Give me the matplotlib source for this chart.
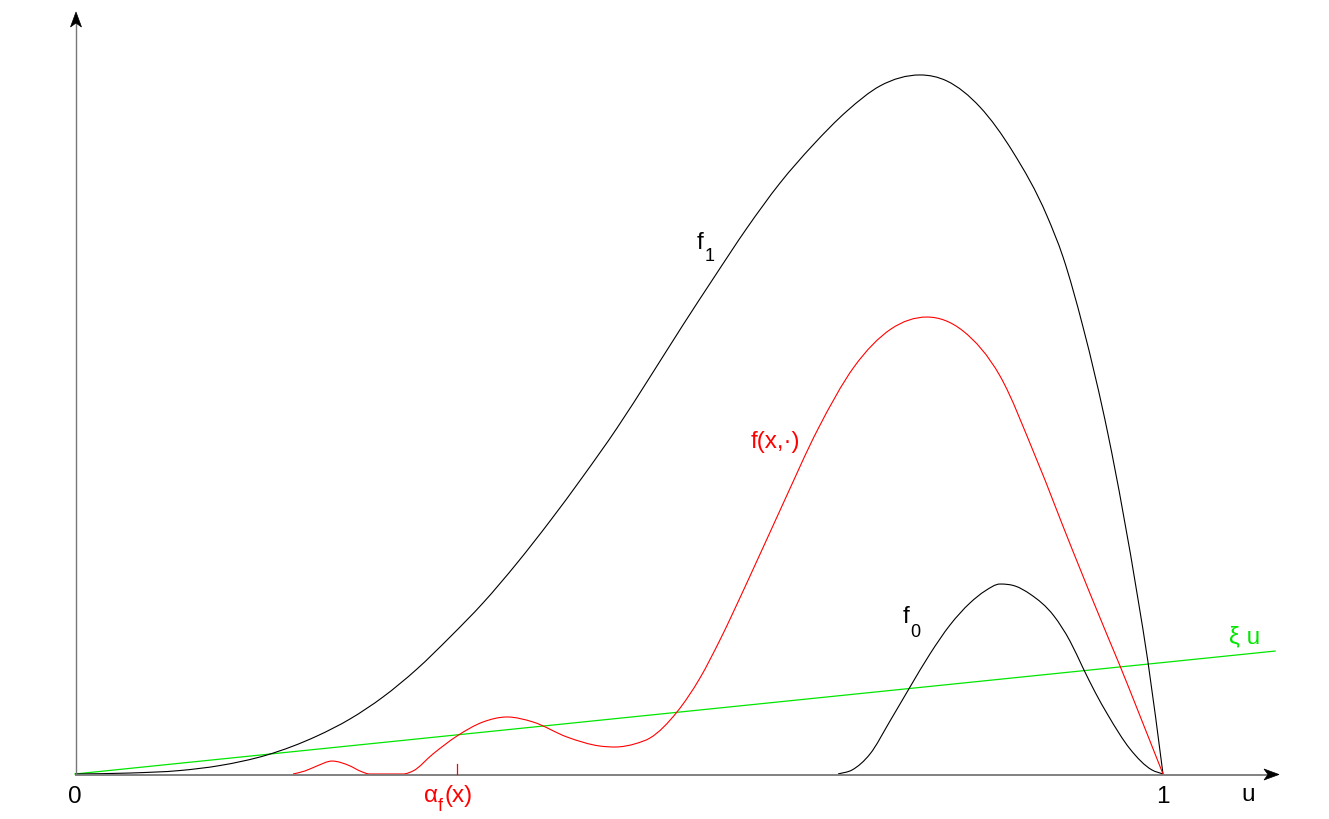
import matplotlib
matplotlib.use("Agg")
import numpy as np
import matplotlib.pyplot as plt
import matplotlib.transforms as mtransforms
from matplotlib.patches import Polygon, PathPatch
from matplotlib.path import Path

# ---------------- data (u on horizontal axis, values in same units) ----------------
f1_u = [0.0000, 0.0506, 0.0965, 0.1333, 0.1765, 0.2224, 0.2528, 0.2831, 0.3143, 0.3447,
        0.3750, 0.4063, 0.4366, 0.4669, 0.4982, 0.5285, 0.5588, 0.5864, 0.6176, 0.6480,
        0.6783, 0.7096, 0.7399, 0.7767, 0.8015, 0.8318, 0.8621, 0.8934, 0.9081, 0.9265,
        0.9494, 0.9770, 0.9862, 1.0000]
f1_v = [0.0000, 0.0009, 0.0032, 0.0078, 0.0175, 0.0349, 0.0506, 0.0708, 0.0965, 0.1259,
        0.1572, 0.1939, 0.2325, 0.2735, 0.3180, 0.3649, 0.4127, 0.4550, 0.5018, 0.5432,
        0.5781, 0.6094, 0.6324, 0.6425, 0.6369, 0.6130, 0.5717, 0.5129, 0.4752, 0.4108,
        0.3125, 0.1608, 0.1029, 0.0000]

fx_u = [0.2004, 0.2114, 0.2224, 0.2362, 0.2528, 0.2619, 0.2711, 0.3015, 0.3107, 0.3290,
        0.3511, 0.3750, 0.3971, 0.4210, 0.4522, 0.4825, 0.4963, 0.5156, 0.5285, 0.5533,
        0.5744, 0.5928, 0.6158, 0.6498, 0.6829, 0.7160, 0.7500, 0.7831, 0.8162, 0.8502,
        0.8833, 0.9164, 0.9494, 0.9605, 0.9789, 1.0000]
fx_v = [0.0000, 0.0028, 0.0074, 0.0119, 0.0074, 0.0028, 0.0000, 0.0000, 0.0028, 0.0184,
        0.0349, 0.0478, 0.0524, 0.0478, 0.0340, 0.0257, 0.0248, 0.0280, 0.0331, 0.0570,
        0.0882, 0.1232, 0.1719, 0.2463, 0.3171, 0.3741, 0.4090, 0.4200, 0.4072, 0.3658,
        0.2904, 0.2068, 0.1259, 0.0993, 0.0533, 0.0000]

f0_u = [0.7013, 0.7142, 0.7307, 0.7491, 0.7675, 0.7858, 0.8042, 0.8226, 0.8364, 0.8502,
        0.8640, 0.8778, 0.8998, 0.9145, 0.9265, 0.9375, 0.9494, 0.9697, 0.9899, 1.0000]
f0_v = [0.0000, 0.0037, 0.0184, 0.0487, 0.0800, 0.1103, 0.1369, 0.1572, 0.1682, 0.1746,
        0.1728, 0.1654, 0.1452, 0.1222, 0.0974, 0.0754, 0.0542, 0.0230, 0.0037, 0.0000]

xi_u = [0.000, 1.103]
xi_v = [0.000, 0.113]

alpha_u = 0.351          # position of alpha_f(x)
tick_labels = ["0", "1"]
tick_pos = [0.0, 1.0]

# ---------------- figure ----------------
W, H = 1329, 820
fig = plt.figure(figsize=(W / 100, H / 100), dpi=100)
ax = fig.add_axes([0, 0, 1, 1])
ax.set_xlim(-75 / 1088, (W - 75) / 1088)
ax.set_ylim(-(H - 775) / 1088, 775 / 1088)
ax.axis("off")

# pixel transform (origin top-left, y down) for decorations / labels
pix = mtransforms.Affine2D().scale(1 / W, -1 / H).translate(0, 1) + fig.transFigure

FONT = "Liberation Sans"
RED = "#ff0000"
GREEN = "#00e600"


def smooth_curve(xs, ys, **kw):
    """Draw a smooth curve (monotone cubic Hermite as Bezier segments) through the points."""
    x = np.asarray(xs, float)
    y = np.asarray(ys, float)
    h = np.diff(x)
    d = np.diff(y) / h
    m = np.empty_like(x)
    m[0] = d[0]
    m[-1] = d[-1]
    m[1:-1] = (h[:-1] * d[1:] + h[1:] * d[:-1]) / (h[:-1] + h[1:])
    flat = d[:-1] * d[1:] <= 0          # local extrema / flat parts: horizontal tangent
    m[1:-1][flat] = 0.0
    verts = [(x[0], y[0])]
    codes = [Path.MOVETO]
    for i in range(len(x) - 1):
        hh = h[i] / 3.0
        verts += [(x[i] + hh, y[i] + m[i] * hh),
                  (x[i + 1] - hh, y[i + 1] - m[i + 1] * hh),
                  (x[i + 1], y[i + 1])]
        codes += [Path.CURVE4] * 3
    patch = PathPatch(Path(verts, codes), fill=False, transform=ax.transData, **kw)
    ax.add_patch(patch)


# axes lines
axis_col = "#777777"
ax.plot([75.5, 75.5], [775, 22], color=axis_col, lw=1.0, transform=pix, zorder=5,
        solid_capstyle="butt")
ax.plot([75, 1270], [775.5, 775.5], color=axis_col, lw=1.3, transform=pix, zorder=5,
        solid_capstyle="butt")
# arrowheads
ax.add_patch(Polygon([(76, 13), (70.5, 28), (76, 24), (81.5, 28)], closed=True,
                     facecolor="black", edgecolor="black", lw=0.5, transform=pix, zorder=6))
ax.add_patch(Polygon([(1279, 775.5), (1264, 770), (1268, 775.5), (1264, 781)], closed=True,
                     facecolor="black", edgecolor="black", lw=0.5, transform=pix, zorder=6))

# curves
ax.plot(xi_u, xi_v, color=GREEN, lw=0.9, zorder=3)
smooth_curve(f1_u, f1_v, edgecolor="black", lw=0.8, zorder=4)
smooth_curve(f0_u, f0_v, edgecolor="black", lw=0.8, zorder=4)
smooth_curve(fx_u, fx_v, edgecolor=RED, lw=0.8, zorder=4)

# alpha_f(x) tick
ax.plot([alpha_u, alpha_u], [0, 0.0095], color=RED, lw=0.9, zorder=6)

# labels
FS = 17.5
SFS = 13


def txt(x, y, s, color="black", size=FS, ha="left"):
    ax.text(x, y, s, transform=pix, color=color, fontsize=size, family=FONT,
            ha=ha, va="baseline")


trans_b = mtransforms.blended_transform_factory(ax.transData, pix)
for p, lab in zip(tick_pos, tick_labels):
    ax.text(p, 803, lab, fontsize=FS, family=FONT, ha="center", va="baseline",
            transform=trans_b)

txt(1241, 801, "u")
# f_1
txt(697, 249, "f")
txt(705, 261, "1", size=SFS)
# f_0
txt(903, 623, "f")
txt(910, 637, "0", size=SFS)
# f(x,.)
txt(751, 448, "f(x,\u00b7)", color=RED)
# xi u
txt(1229, 643, "\u03be u", color=GREEN)
# alpha_f(x)
txt(424, 802, "\u03b1", color=RED)
txt(438, 811, "f", color=RED, size=SFS)
txt(444, 802, "(x)", color=RED)

fig.savefig("out.png", dpi=100)
